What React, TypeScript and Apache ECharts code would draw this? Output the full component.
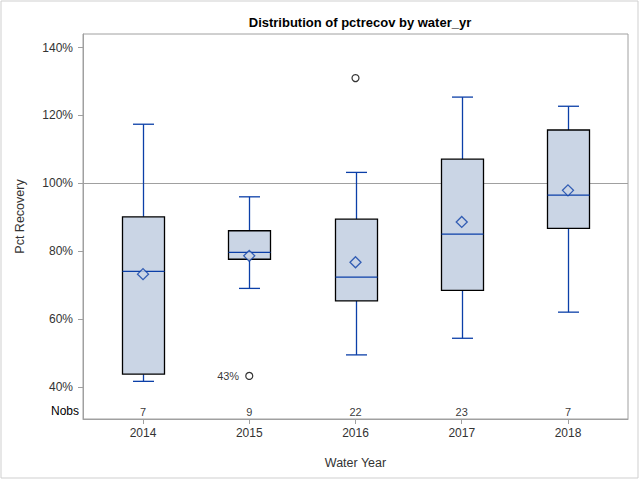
import React, { useEffect, useRef } from "react";
import * as echarts from "echarts";

const years = [2014, 2015, 2016, 2017, 2018];
// [min, Q1, median, Q3, max] in percent
const boxStats = [
  [41.6, 43.7, 74.0, 90.1, 117.4],
  [69.0, 77.6, 79.6, 86.0, 96.0],
  [49.4, 65.3, 72.3, 89.4, 103.2],
  [54.3, 68.4, 85.0, 107.1, 125.4],
  [62.0, 86.7, 96.5, 115.7, 122.7],
];
const means = [73.2, 78.6, 76.7, 88.6, 97.9];
const nobs = [7, 9, 22, 23, 7];
const outliers = [
  { year: 2015, value: 43.2, label: "43%" },
  { year: 2016, value: 131.0, label: "" },
];
const yTicks = [40, 60, 80, 100, 120, 140];

const BLUE = "#0B3FA8";
const FILL = "#CAD5E5";
const FONT = "Liberation Sans";

export default function App() {
  const ref = useRef<HTMLDivElement>(null);
  useEffect(() => {
    if (!ref.current) return;
    const chart = echarts.init(ref.current, null, { renderer: "svg" });
    const boxData = years.map((y, i) => [y, ...boxStats[i]]);
    chart.setOption({
      animation: false,
      backgroundColor: "#fff",
      textStyle: { fontFamily: FONT },
      title: {
        text: "Distribution of pctrecov by water_yr",
        left: 355,
        textAlign: "center",
        top: 11,
        textStyle: { fontFamily: FONT, fontSize: 13, fontWeight: "bold", color: "#000" },
      },
      graphic: [
        {
          type: "rect",
          shape: { x: 1, y: 1, width: 637, height: 477 },
          style: { fill: "none", stroke: "#cfcfcf", lineWidth: 1 },
          silent: true,
        },
        {
          type: "text",
          x: 79,
          y: 411,
          style: {
            text: "Nobs",
            fill: "#000",
            font: `12px ${FONT}`,
            textAlign: "right",
            textVerticalAlign: "middle",
          },
        },
      ],
      grid: {
        left: 83,
        right: 12,
        top: 34,
        bottom: 61,
        show: true,
        borderColor: "#a0a0a0",
        borderWidth: 1,
        containLabel: false,
        outerBoundsMode: "none",
      },
      xAxis: {
        type: "value",
        min: 2013.435,
        max: 2018.565,
        name: "Water Year",
        nameLocation: "middle",
        nameGap: 37,
        nameTextStyle: { fontFamily: FONT, fontSize: 12.5, color: "#333" },
        axisLine: { show: true, lineStyle: { color: "#a0a0a0" } },
        axisTick: { show: true, customValues: years, length: 5, lineStyle: { color: "#a0a0a0" } },
        axisLabel: {
          customValues: years,
          formatter: (v: number) => String(v),
          fontFamily: FONT,
          fontSize: 12,
          color: "#333",
          margin: 8,
        },
        splitLine: { show: false },
      },
      yAxis: {
        type: "value",
        min: 30.5,
        max: 144,
        name: "Pct Recovery",
        nameLocation: "middle",
        nameRotate: 90,
        nameGap: 57,
        nameTextStyle: { fontFamily: FONT, fontSize: 12.5, color: "#333", padding: [0, 0, 0, 20] },
        axisLine: { show: true, lineStyle: { color: "#a0a0a0" } },
        axisTick: { show: true, customValues: yTicks, length: 5, lineStyle: { color: "#a0a0a0" } },
        axisLabel: {
          customValues: yTicks,
          formatter: (v: number) => `${v}%`,
          fontFamily: FONT,
          fontSize: 12,
          color: "#333",
          margin: 10,
        },
        splitLine: { show: false },
      },
      series: [
        {
          type: "custom",
          data: boxData,
          encode: { x: 0, y: [1, 2, 3, 4, 5] },
          z: 2,
          renderItem: (params: any, api: any) => {
            const x = api.value(0);
            const mn = api.coord([x, api.value(1)]);
            const q1 = api.coord([x, api.value(2)]);
            const md = api.coord([x, api.value(3)]);
            const q3 = api.coord([x, api.value(4)]);
            const mx = api.coord([x, api.value(5)]);
            const cx = Math.round(mn[0]) + 0.5;
            const hw = 21;
            const cw = 10.5;
            const lineStyle = { stroke: BLUE, lineWidth: 1.3 };
            return {
              type: "group",
              children: [
                { type: "line", shape: { x1: cx, y1: q3[1], x2: cx, y2: mx[1] }, style: lineStyle },
                { type: "line", shape: { x1: cx - cw, y1: mx[1], x2: cx + cw, y2: mx[1] }, style: lineStyle },
                { type: "line", shape: { x1: cx, y1: q1[1], x2: cx, y2: mn[1] }, style: lineStyle },
                { type: "line", shape: { x1: cx - cw, y1: mn[1], x2: cx + cw, y2: mn[1] }, style: lineStyle },
                {
                  type: "rect",
                  shape: { x: cx - hw, y: q3[1], width: 2 * hw, height: q1[1] - q3[1] },
                  style: { fill: FILL, stroke: "#000", lineWidth: 1.3 },
                },
                { type: "line", shape: { x1: cx - hw, y1: md[1], x2: cx + hw, y2: md[1] }, style: lineStyle },
              ],
            };
          },
        },
        {
          type: "scatter",
          data: years.map((y, i) => [y, means[i]]),
          symbol: "diamond",
          symbolSize: [11, 11],
          itemStyle: { color: FILL, borderColor: BLUE, borderWidth: 1.3 },
          z: 5,
          markLine: {
            silent: true,
            symbol: "none",
            label: { show: false },
            lineStyle: { color: "#a0a0a0", type: "solid", width: 1 },
            data: [{ yAxis: 100 }],
            z: 1,
          },
        },
        {
          type: "scatter",
          data: outliers.map((o) => ({ value: [o.year, o.value], label: { show: !!o.label, formatter: o.label } })),
          symbol: "circle",
          symbolSize: 7,
          itemStyle: { color: "#fff", borderColor: "#000", borderWidth: 1.2 },
          label: {
            position: "left",
            distance: 6,
            fontFamily: FONT,
            fontSize: 11,
            color: "#000",
          },
          z: 5,
        },
        {
          type: "scatter",
          data: years.map((y, i) => [y, 32.5, nobs[i]]),
          symbol: "circle",
          symbolSize: 2,
          itemStyle: { color: "rgba(0,0,0,0)" },
          label: {
            show: true,
            position: "inside",
            formatter: (p: any) => String(p.value[2]),
            fontFamily: FONT,
            fontSize: 11,
            color: "#000",
          },
          z: 5,
        },
      ],
    });
    return () => chart.dispose();
  }, []);
  return (
    <div
      ref={ref}
      style={{ position: "fixed", left: 0, top: 0, width: 640, height: 480 }}
    />
  );
}
